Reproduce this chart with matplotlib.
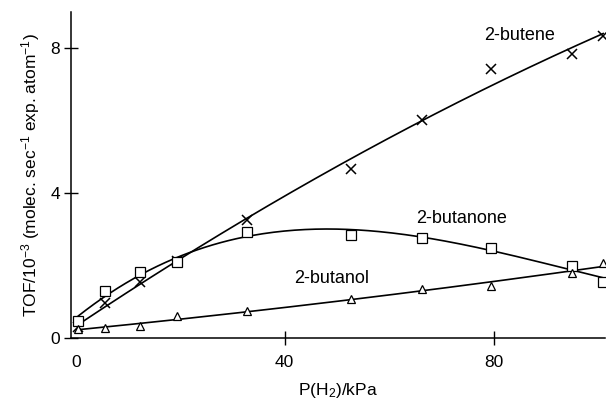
import matplotlib.pyplot as plt
import numpy as np

plt.rcParams['font.family'] = ['Liberation Sans', 'DejaVu Sans']
plt.rcParams['mathtext.fontset'] = 'custom'
plt.rcParams['mathtext.rm'] = 'Liberation Sans'
plt.rcParams['mathtext.it'] = 'Liberation Sans:italic'
plt.rcParams['axes.unicode_minus'] = False

# data
p_h2 = [0.5, 5.6, 12.3, 19.4, 32.8, 52.8, 66.4, 79.6, 95.1, 101.0]
butene = [0.31, 0.97, 1.55, 2.13, 3.26, 4.67, 6.02, 7.43, 7.84, 8.34]
butanone = [0.48, 1.30, 1.83, 2.10, 2.92, 2.85, 2.77, 2.49, 1.99, 1.56]
butanol = [0.25, 0.28, 0.34, 0.61, 0.75, 1.08, 1.36, 1.44, 1.80, 2.08]

fig = plt.figure(figsize=(6.09, 4.03), dpi=100)
ax = fig.add_axes([0.1166, 0.1605, 0.8764, 0.8105])

x = np.array(p_h2)
xf = np.linspace(x.min(), x.max(), 200)

# trend lines (polynomial fits like the spreadsheet)
for vals, deg in [(butene, 2), (butanone, 3), (butanol, 2)]:
    c = np.polyfit(x, vals, deg)
    ax.plot(xf, np.polyval(c, xf), color='black', lw=1.2)

ax.plot(x, butene, 'x', color='black', ms=6.5, mew=1.1)
ax.plot(x, butanone, 's', color='black', mfc='white', ms=7, mew=0.9)
ax.plot(x, butanol, '^', color='black', mfc='white', ms=6, mew=0.9)

ax.text(85, 8.34, '2-butene', fontsize=13, ha='center', va='center')
ax.text(73.9, 3.31, '2-butanone', fontsize=13, ha='center', va='center')
ax.text(49, 1.66, '2-butanol', fontsize=13, ha='center', va='center')

ax.set_xlim(-0.9, 101.3)
ax.set_ylim(0, 9)
ax.set_xticks([0, 40, 80])
ax.set_yticks([0, 4, 8])
ax.tick_params(direction='inout', length=10, width=1, labelsize=12.5)
ax.tick_params(axis='x', pad=7)
ax.tick_params(axis='y', pad=3)
ax.xaxis.get_major_ticks()[0].tick1line.set_visible(False)

for s in ['top', 'right']:
    ax.spines[s].set_visible(False)
ax.spines['left'].set_linewidth(1.1)
ax.spines['bottom'].set_linewidth(1.1)

ax.set_xlabel('P(H$_2$)/kPa', fontsize=12.5, labelpad=8)
ax.set_ylabel('TOF/10$^{-3}$ (molec. sec$^{-1}$ exp. atom$^{-1}$)', fontsize=12.5, labelpad=6)

fig.savefig('out.png', dpi=100)
